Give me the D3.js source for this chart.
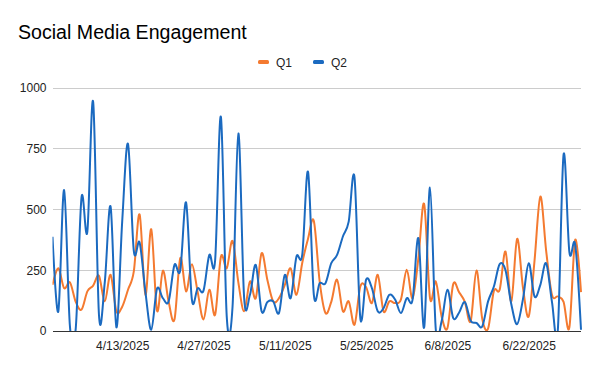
<!DOCTYPE html>
<html><head><meta charset="utf-8">
<script src="https://cdn.jsdelivr.net/npm/d3@7"></script>
<style>
html,body{margin:0;padding:0;background:#fff;}
svg{display:block;font-family:"Liberation Sans",Arial,sans-serif;}
</style></head>
<body>
<svg id="chart" width="600" height="371"></svg>
<script>
const startDate = "2025-04-01";
const seriesNames = ["Q1", "Q2"];
const seriesColors = ["#f47a30", "#1b6ac0"];
const q1 = [190,258,176,200,120,88,163,187,227,122,231,81,100,170,245,480,149,419,83,248,120,47,300,163,275,160,47,170,67,306,258,371,200,81,204,135,320,210,122,135,190,258,149,280,380,453,204,74,120,211,81,122,26,183,180,115,231,81,122,115,130,252,135,300,522,135,204,
  60,12,193,160,120,40,249,50,10,165,170,327,122,379,180,60,290,553,330,149,142,120,15,375,160];
const q2 = [388,80,580,20,10,550,409,943,67,200,512,15,450,770,330,364,160,5,174,135,122,272,250,529,129,176,166,313,290,881,60,100,813,135,149,272,81,119,122,74,231,135,306,313,655,149,197,197,279,313,389,450,632,53,211,176,81,94,149,129,74,135,129,382,15,590,
  5,40,170,53,75,119,42,33,19,122,183,275,250,110,28,130,279,142,190,279,120,0,726,325,355,5];
const yTicks = [0, 250, 500, 750, 1000];
const xTickDates = ["2025-04-13","2025-04-27","2025-05-11","2025-05-25","2025-06-08","2025-06-22"];

const parse = d3.utcParse("%Y-%m-%d");
const d0 = parse(startDate);
const dates = q1.map((_, i) => d3.utcDay.offset(d0, i));
const fmt = d => `${d.getUTCMonth()+1}/${d.getUTCDate()}/${d.getUTCFullYear()}`;

const svg = d3.select("#chart");
const L = 52.5, R = 581, T = 88, B = 331;
const x = d3.scaleUtc().domain([dates[0], dates[dates.length-1]]).range([L, R]);
const y = d3.scaleLinear().domain([0, 1000]).range([B, T]);

svg.append("text").attr("x", 18).attr("y", 39).attr("font-size", 19.6).attr("fill", "#000").text("Social Media Engagement");

// gridlines
svg.append("g").selectAll("line").data(yTicks.filter(t => t !== 0)).join("line")
  .attr("x1", L).attr("x2", R).attr("y1", d => y(d)).attr("y2", d => y(d))
  .attr("stroke", "#cccccc").attr("stroke-width", 1).attr("shape-rendering", "crispEdges");

// y axis labels
const yAxis = d3.axisLeft(y).tickValues(yTicks).tickFormat(d3.format("d")).tickSize(0).tickPadding(6);
const gy = svg.append("g").attr("transform", `translate(${L},0)`).call(yAxis);
gy.select(".domain").remove();
gy.selectAll("text").attr("font-size", 12).attr("fill", "#222").attr("font-family", "Liberation Sans, Arial, sans-serif");

// clip
svg.append("clipPath").attr("id", "clip").append("rect").attr("x", L).attr("y", T - 10).attr("width", R - L + 1).attr("height", B - T + 10);

const line = d3.line().x((d, i) => x(dates[i])).y(d => y(d)).curve(d3.curveCardinal.tension(0));
const g = svg.append("g").attr("clip-path", "url(#clip)");
[q1, q2].forEach((s, k) => {
  g.append("path").datum(s).attr("d", line).attr("fill", "none")
    .attr("stroke", seriesColors[k]).attr("stroke-width", 2).attr("stroke-linejoin", "round");
});

// baseline
svg.append("line").attr("x1", L).attr("x2", R).attr("y1", B).attr("y2", B)
  .attr("stroke", "#333").attr("stroke-width", 1).attr("shape-rendering", "crispEdges");

// x axis
const xAxis = d3.axisBottom(x).tickValues(xTickDates.map(parse)).tickFormat(fmt).tickSize(0).tickPadding(10);
const gx = svg.append("g").attr("transform", `translate(0,${B})`).call(xAxis);
gx.select(".domain").remove();
gx.selectAll("text").attr("font-size", 12).attr("fill", "#222").attr("font-family", "Liberation Sans, Arial, sans-serif");

// legend
const leg = svg.append("g");
const legX = [258, 313];
seriesNames.forEach((n, k) => {
  leg.append("rect").attr("x", legX[k]).attr("y", 60).attr("width", 11).attr("height", 4).attr("rx", 1.5).attr("fill", seriesColors[k]);
  leg.append("text").attr("x", legX[k] + 18).attr("y", 66.5).attr("font-size", 12).attr("fill", "#222").text(n);
});
</script>
</body></html>
